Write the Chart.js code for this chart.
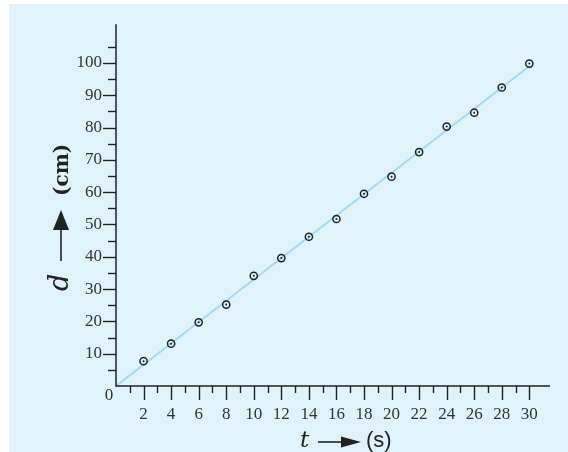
<!DOCTYPE html>
<html>
<head>
<meta charset="utf-8">
<script src="https://cdn.jsdelivr.net/npm/chart.js@4.4.1/dist/chart.umd.min.js"></script>
<style>
html,body{margin:0;padding:0;background:#fff;}
#wrap{width:568px;height:452px;}
</style>
</head>
<body>
<div id="wrap"><canvas id="c" width="568" height="452"></canvas></div>
<script>
// Data
const timeS = [2, 4, 6, 8, 10, 12, 14, 16, 18, 20, 22, 24, 26, 28, 30];
const distanceCm = [7.7, 13.1, 19.7, 25.2, 34.1, 39.6, 46.2, 51.7, 59.5, 64.8, 72.4, 80.3, 84.6, 92.4, 99.8];
const fitT = [0, 30];
const fitD = [0, 99];
const xTickLabels = [2, 4, 6, 8, 10, 12, 14, 16, 18, 20, 22, 24, 26, 28, 30];
const yTickLabels = [10, 20, 30, 40, 50, 60, 70, 80, 90, 100];

const pts = timeS.map((t, i) => ({x: t, y: distanceCm[i]}));
const fitPts = fitT.map((t, i) => ({x: t, y: fitD[i]}));

const INK = '#222222';
const SERIF = '"DejaVu Serif", serif';
const TICKFONT = '"Liberation Serif", serif';

const bgPlugin = {
  id: 'bg',
  beforeDraw(chart) {
    const ctx = chart.ctx;
    ctx.save();
    ctx.fillStyle = '#ffffff';
    ctx.fillRect(0, 0, chart.width, chart.height);
    ctx.fillStyle = '#e0f3fb';
    ctx.fillRect(9, 4, chart.width - 9, chart.height - 4);
    ctx.restore();
  }
};

const axesPlugin = {
  id: 'axesDraw',
  afterDraw(chart) {
    const ctx = chart.ctx;
    const xs = chart.scales.x, ys = chart.scales.y;
    const a = chart.chartArea;
    const x0 = xs.getPixelForValue(0), y0 = ys.getPixelForValue(0);
    ctx.save();
    ctx.strokeStyle = INK;
    ctx.lineWidth = 1.5;
    ctx.beginPath();
    ctx.moveTo(x0, a.top);
    ctx.lineTo(x0, y0);
    ctx.lineTo(a.right, y0);
    ctx.stroke();
    ctx.lineWidth = 1.4;
    ys.ticks.forEach(t => {
      const v = t.value;
      if (v <= 0 || v > 105 || v % 5 !== 0) return;
      const py = Math.round(ys.getPixelForValue(v)) + 0.5;
      const len = v % 10 === 0 ? 13 : 8;
      ctx.beginPath();
      ctx.moveTo(x0 - len, py);
      ctx.lineTo(x0, py);
      ctx.stroke();
    });
    xs.ticks.forEach(t => {
      const v = t.value;
      if (v <= 0 || v > 31 || !Number.isInteger(v)) return;
      const px = Math.round(xs.getPixelForValue(v)) + 0.5;
      const len = v % 2 === 0 ? 14 : 7;
      ctx.beginPath();
      ctx.moveTo(px, y0);
      ctx.lineTo(px, y0 + len);
      ctx.stroke();
    });
    // origin label
    ctx.fillStyle = '#333';
    ctx.font = '17px ' + TICKFONT;
    ctx.textAlign = 'center';
    ctx.textBaseline = 'middle';
    ctx.fillText('0', x0 - 7, y0 + 10);

    // x title: t -> (s)
    ctx.textBaseline = 'alphabetic';
    ctx.textAlign = 'left';
    ctx.fillStyle = INK;
    ctx.font = 'italic 23px ' + SERIF;
    ctx.fillText('t', 300, 447);
    ctx.strokeStyle = INK;
    ctx.lineWidth = 1.6;
    ctx.beginPath();
    ctx.moveTo(318, 442);
    ctx.lineTo(344, 442);
    ctx.stroke();
    ctx.beginPath();
    ctx.moveTo(341, 436.5);
    ctx.lineTo(361, 442);
    ctx.lineTo(341, 447.5);
    ctx.closePath();
    ctx.fill();
    ctx.font = '22px "Liberation Sans", sans-serif';
    ctx.fillText('(s)', 366, 447);

    // y title: d -> (cm), rotated
    ctx.save();
    ctx.translate(68, 0);
    ctx.rotate(-Math.PI / 2);
    ctx.font = 'italic 27px ' + SERIF;
    ctx.fillText('d', -291, 0);
    ctx.lineWidth = 1.6;
    ctx.beginPath();
    ctx.moveTo(-261, -7);
    ctx.lineTo(-226, -7);
    ctx.stroke();
    ctx.beginPath();
    ctx.moveTo(-230, -15);
    ctx.lineTo(-210, -7);
    ctx.lineTo(-230, 1);
    ctx.closePath();
    ctx.fill();
    ctx.font = 'bold 20px ' + SERIF;
    ctx.fillText('(cm)', -196, 0);
    ctx.restore();
    ctx.restore();
  }
};

new Chart(document.getElementById('c'), {
  type: 'scatter',
  data: {
    datasets: [
      {
        type: 'line',
        data: fitPts,
        borderColor: '#a6d8f2',
        borderWidth: 2,
        pointRadius: 0,
        fill: false,
        order: 3
      },
      {
        data: pts,
        pointRadius: 3.6,
        pointBorderWidth: 1.5,
        pointBorderColor: INK,
        pointBackgroundColor: 'rgba(0,0,0,0)',
        order: 2
      },
      {
        data: pts,
        pointRadius: 1,
        pointBorderWidth: 0,
        pointBackgroundColor: INK,
        order: 1
      }
    ]
  },
  options: {
    responsive: false,
    animation: false,
    events: [],
    layout: {padding: {left: 0, top: 22, right: 17, bottom: 0}},
    plugins: {legend: {display: false}, tooltip: {enabled: false}},
    scales: {
      x: {
        type: 'linear',
        min: 0,
        max: 31.5,
        grid: {display: false, drawTicks: false},
        border: {display: false},
        afterFit(s) { s.height = 66; },
        ticks: {
          stepSize: 1,
          autoSkip: false,
          maxRotation: 0,
          padding: 18,
          color: '#333',
          font: {family: TICKFONT, size: 17},
          callback: v => xTickLabels.includes(v) ? String(v) : ''
        }
      },
      y: {
        type: 'linear',
        min: 0,
        max: 112,
        grid: {display: false, drawTicks: false},
        border: {display: false},
        afterFit(s) { s.width = 116; },
        ticks: {
          stepSize: 5,
          autoSkip: false,
          padding: 14,
          color: '#333',
          font: {family: TICKFONT, size: 17},
          callback: v => yTickLabels.includes(v) ? String(v) : ''
        }
      }
    }
  },
  plugins: [bgPlugin, axesPlugin]
});
</script>
</body>
</html>
